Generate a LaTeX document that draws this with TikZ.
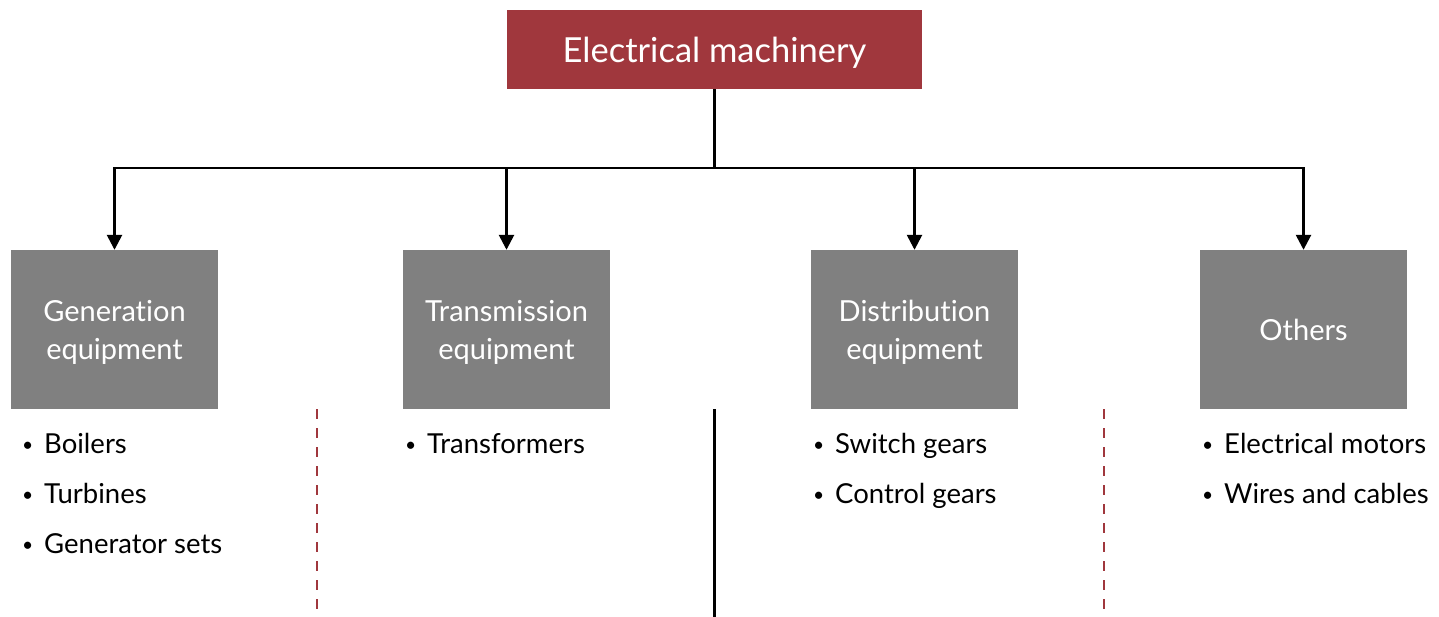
\documentclass[tikz,border=0pt]{standalone}
\usepackage{fontspec}
\setmainfont{Lato}[Ligatures=NoCommon]
\usetikzlibrary{arrows.meta, positioning}
\definecolor{machred}{RGB}{160,55,61}
\definecolor{groupgray}{RGB}{128,128,128}
\tikzset{
    topbox/.style={
        rectangle,
        fill=machred,
        text=white,
        minimum width=415pt,
        minimum height=79pt,
        text depth=0pt,
        font=\fontsize{34.5}{38}\selectfont
    },
    groupbox/.style={
        rectangle,
        fill=groupgray,
        text=white,
        align=center,
        minimum width=207pt,
        minimum height=159pt,
        text depth=0pt,
        font=\fontsize{29}{38}\selectfont
    },
    itemlist/.style={
        anchor=north west,
        inner sep=0pt,
        align=left,
        font=\fontsize{27.5}{50}\selectfont
    },
    link/.style={line width=2.6pt},
    arrow/.style={line width=2.6pt, -{Triangle[width=15pt,length=15pt]}},
    divider/.style={line width=2.2pt, machred, dash pattern=on 10pt off 9pt}
}
\newcommand{\bul}{\makebox[22pt][l]{\raisebox{1.5pt}{\scalebox{0.7}{\textbullet}}}}

\begin{document}
\begin{tikzpicture}[x=1pt, y=-1pt]
\useasboundingbox (0,0) rectangle (1439,617);

\node (machinery) [topbox] at (714.5,49.5) {Electrical machinery};

\node (generation) [groupbox] at (114.5,329.5) {Generation\\equipment};
\node (transmission) [groupbox] at (506.5,329.5) {Transmission\\equipment};
\node (distribution) [groupbox] at (914.5,329.5) {Distribution\\equipment};
\node (others) [groupbox] at (1303.5,329.5) {Others};

\coordinate (junction) at (714.5,168);

\node (genlist) [itemlist] at (22,433)
{\bul Boilers\\\bul Turbines\\\bul Generator sets};
\node (translist) [itemlist] at (405,433)
{\bul Transformers};
\node (distlist) [itemlist] at (813,433)
{\bul Switch gears\\\bul Control gears};
\node (otherlist) [itemlist] at (1202,433)
{\bul Electrical motors\\\bul Wires and cables};

\draw [link] (machinery.south) -- (junction);
\draw [arrow] (junction) -| (generation.north);
\draw [arrow] (junction) -| (transmission.north);
\draw [arrow] (junction) -| (distribution.north);
\draw [arrow] (junction) -| (others.north);

\draw [divider] (317,409) -- (317,617);
\draw [link] (714.5,409) -- (714.5,617);
\draw [divider] (1104,409) -- (1104,617);

\end{tikzpicture}
\end{document}
